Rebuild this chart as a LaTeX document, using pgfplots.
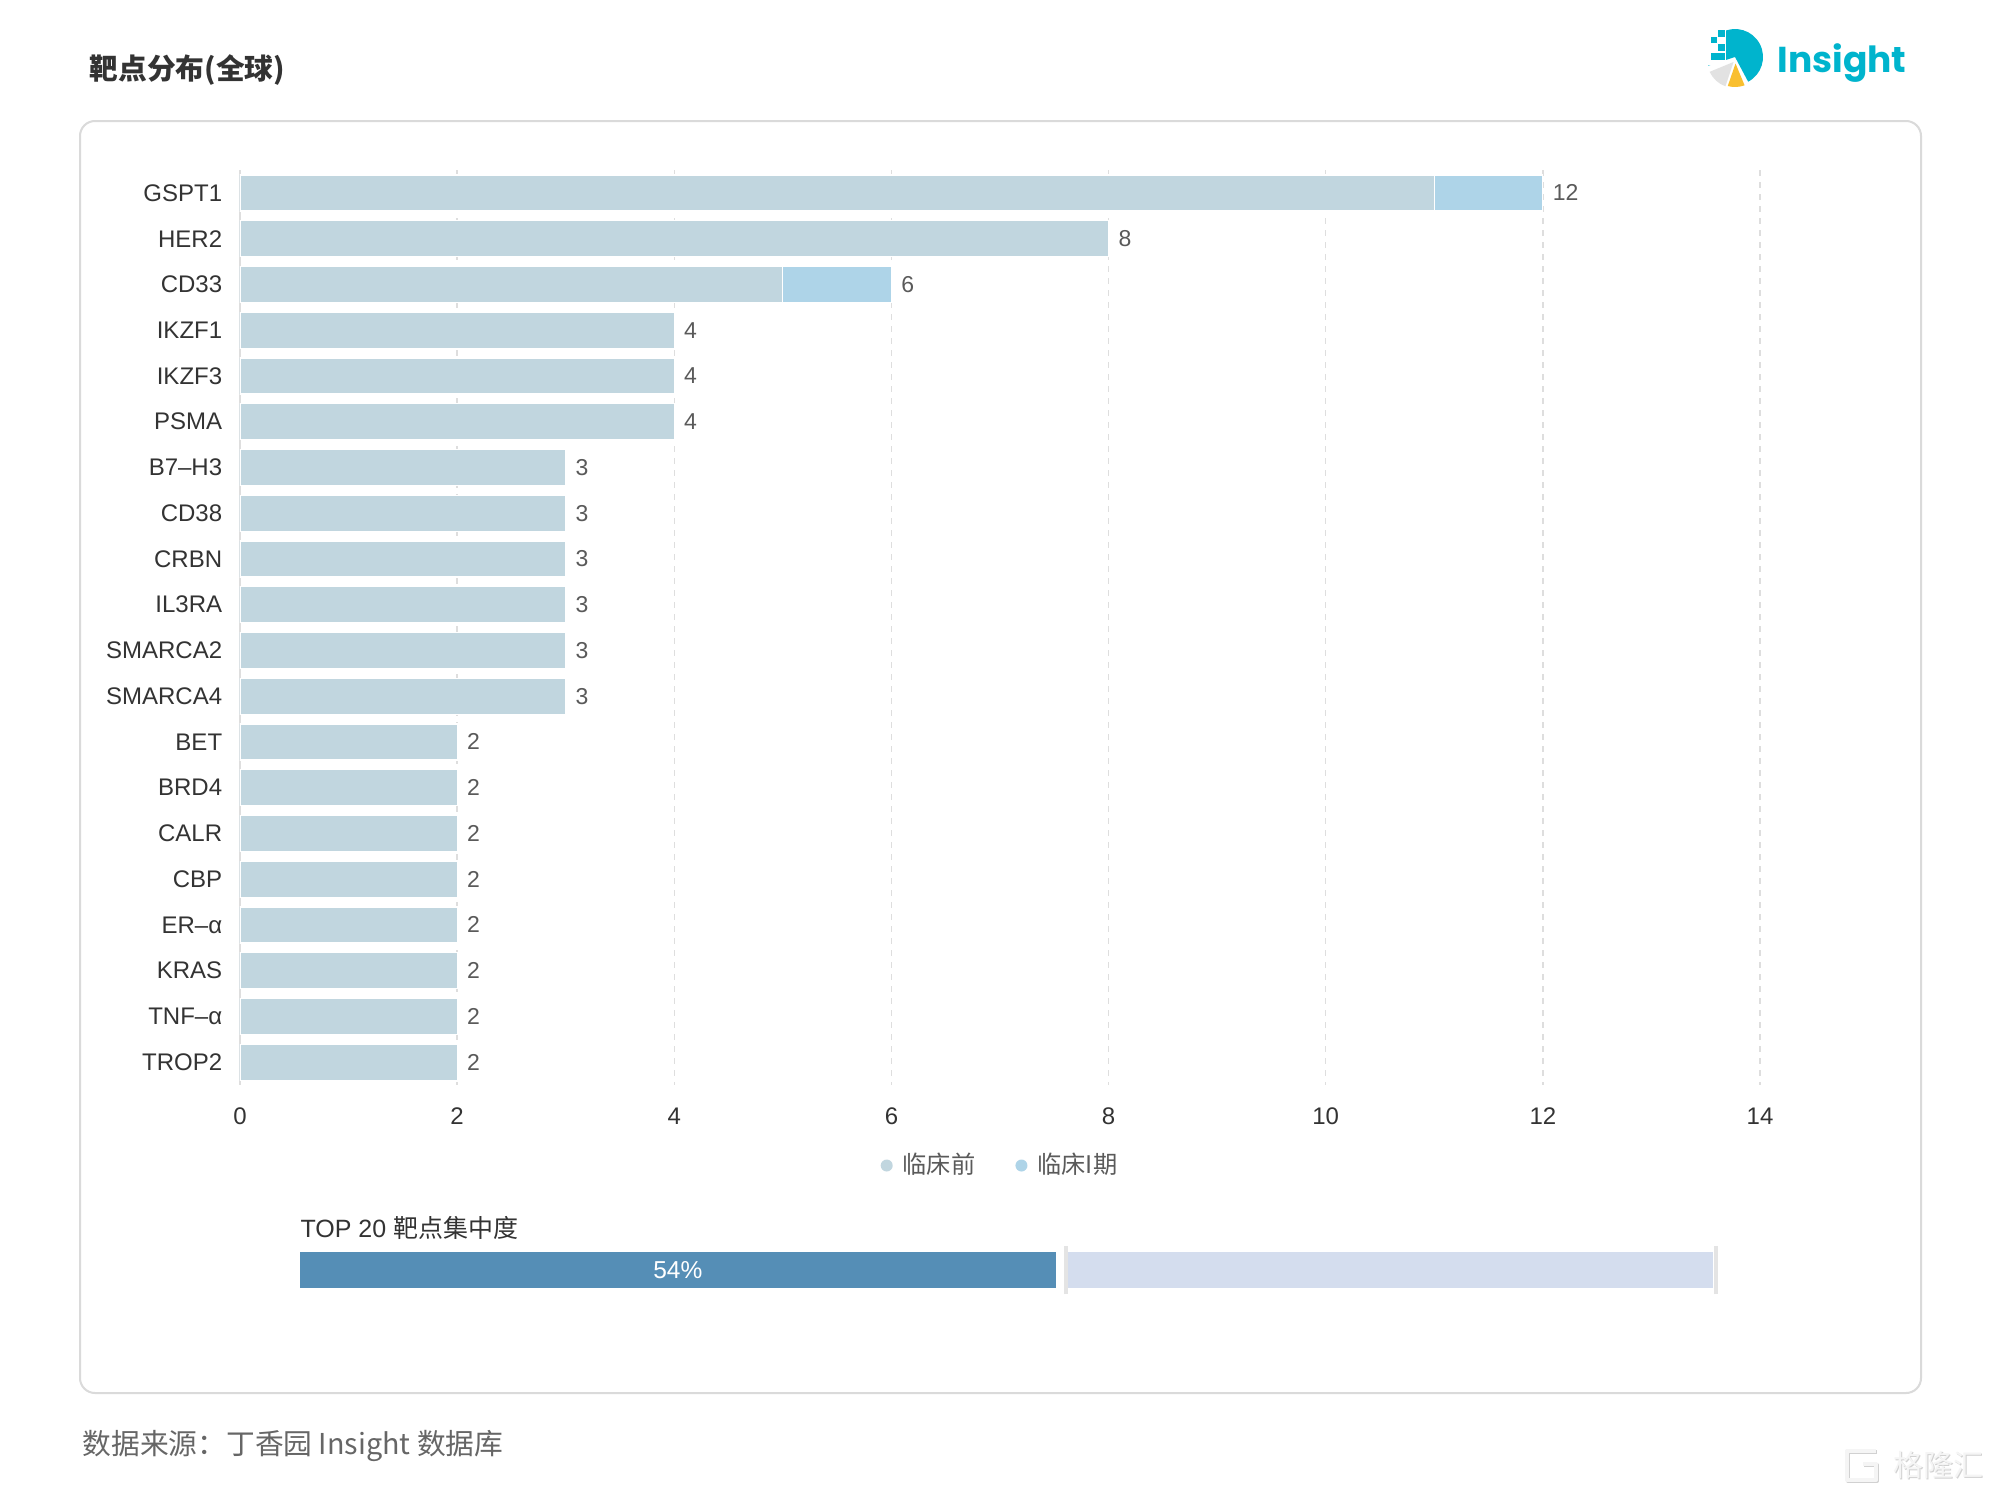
\documentclass[border=0pt]{standalone}
\usepackage{fontspec}
\usepackage{pgfplots}
\pgfplotsset{compat=1.18}
\usetikzlibrary{calc}
\setmainfont{Liberation Sans}
\newfontfamily\cjk{Noto Sans CJK SC}
\newfontfamily\logofont{Poppins}

\definecolor{pre}{HTML}{C1D6DF}
\definecolor{ph1}{HTML}{AED4E8}
\definecolor{txt}{HTML}{333333}
\definecolor{val}{HTML}{5A5A5A}
\definecolor{gridc}{HTML}{DEDEDE}
\definecolor{framec}{HTML}{DADADA}
\definecolor{dark}{HTML}{558EB6}
\definecolor{track}{HTML}{D4DDEE}
\definecolor{sepc}{HTML}{E4E4E4}
\definecolor{teal}{HTML}{00B4CD}
\definecolor{logogray}{HTML}{E2E2E2}
\definecolor{logoyel}{HTML}{F9BF2F}
\definecolor{src}{HTML}{666666}

\begin{document}
\begin{tikzpicture}
\useasboundingbox (0,0) rectangle (800pt,-596.8pt);
\fill[white] (0,0) rectangle (800pt,-596.8pt);

% title
\node[anchor=west, inner sep=0pt, text=txt] at (35.6pt,-28pt)
  {\cjk\bfseries\fontsize{11.5}{14}\selectfont 靶点分布(全球)};

% logo
\begin{scope}[shift={(694pt,-22.8pt)}]
  \fill[teal] (0,0) -- (-62:11.2pt) arc (-62:198:11.2pt) -- cycle;
  \fill[white] (-11.6pt,-3pt) rectangle (-3.6pt,12pt);
  \fill[teal] (-9.6pt,5.6pt) rectangle (-7.2pt,8pt);
  \fill[teal] (-6.8pt,8pt) rectangle (-4pt,10.8pt);
  \fill[teal] (-6.8pt,2.4pt) rectangle (-4pt,5.2pt);
  \fill[teal] (-9.6pt,-1.2pt) rectangle (-4pt,1.6pt);
  \fill[logogray] (-0.6pt,-2pt) -- ($(205:11.2pt)+(0,-1.2pt)$) arc (205:250:11.2pt) -- cycle;
  \fill[logoyel] (0.2pt,-2.6pt) -- ($(255:11.2pt)+(0,-0.8pt)$) arc (255:290:11.2pt) -- cycle;
\end{scope}
\node[anchor=base west, inner sep=0pt, text=teal] at (710.8pt,-28.8pt)
  {\logofont\bfseries\fontsize{14.4}{16}\selectfont Insight};

% panel frame
\draw[framec, line width=0.8pt, rounded corners=6pt] (32pt,-48.4pt) rectangle (768.4pt,-557.2pt);

\begin{axis}[
  at={(96pt,-434pt)}, anchor=south west,
  scale only axis, width=608pt, height=366pt,
  xbar, bar shift=0pt, bar width=14.4pt,
  xmin=0, xmax=14, ymin=-0.5, ymax=19.5, y dir=reverse,
  xtick={0,2,...,14}, ytick={0,...,19},
  yticklabels={GSPT1,HER2,CD33,IKZF1,IKZF3,PSMA,B7–H3,CD38,CRBN,IL3RA,SMARCA2,SMARCA4,BET,BRD4,CALR,CBP,ER–α,KRAS,TNF–α,TROP2},
  major tick length=0pt,
  axis line style={draw=none},
  xmajorgrids,
  grid style={gridc, dash pattern=on 2.4pt off 2.4pt, line width=0.6pt},
  extra x ticks={0}, extra x tick labels={},
  extra x tick style={grid style={solid, gridc, line width=0.8pt}},
  tick label style={font=\fontsize{9.6}{11}\selectfont, text=txt},
  /pgf/number format/assume math mode=true,
  xticklabel style={yshift=-5.5pt},
  yticklabel style={xshift=-3.6pt},
  legend columns=2,
  legend image code/.code={\fill (0pt,0pt) circle (2.4pt); \path (4.4pt,0pt);},
  legend style={at={(0.5,0)}, anchor=center, yshift=-32.2pt, xshift=0.6pt, draw=none, fill=none,
    font=\cjk\fontsize{9.7}{11}\selectfont, text=val,
    /tikz/every even column/.append style={column sep=14pt}},
]
% all stages together; the phase I part shows past the preclinical bar
\addplot[forget plot, fill=ph1, draw=white, line width=0.5pt,
  nodes near coords,
  nodes near coords style={font=\fontsize{9.2}{11}\selectfont, text=val, anchor=west, xshift=0.4pt}]
  coordinates {
  (12,0) (8,1) (6,2) (4,3) (4,4) (4,5) (3,6) (3,7) (3,8) (3,9)
  (3,10) (3,11) (2,12) (2,13) (2,14) (2,15) (2,16) (2,17) (2,18) (2,19)};
% preclinical
\addplot[forget plot, fill=pre, draw=white, line width=0.5pt] coordinates {
  (11,0) (8,1) (5,2) (4,3) (4,4) (4,5) (3,6) (3,7) (3,8) (3,9)
  (3,10) (3,11) (2,12) (2,13) (2,14) (2,15) (2,16) (2,17) (2,18) (2,19)};
\addlegendimage{fill=pre, draw=none}
\addlegendentry{临床前}
\addlegendimage{fill=ph1, draw=none}
\addlegendentry{临床I期}
\end{axis}

% concentration of the top 20 targets
\node[anchor=west, inner sep=0pt, text=txt] at (120pt,-491.2pt)
  {\fontsize{10}{11}\selectfont TOP 20 {\cjk 靶点集中度}};
\begin{axis}[
  at={(120pt,-517.6pt)}, anchor=south west,
  scale only axis, width=566.4pt, height=19.2pt,
  xmin=0, xmax=100, ymin=-1, ymax=1, hide axis, clip=false,
]
\addplot[xbar, bar shift=0pt, bar width=14.4pt, fill=track, draw=none] coordinates {(100,0)};
\addplot[xbar, bar shift=0pt, bar width=14.4pt, fill=dark, draw=none] coordinates {(54,0)};
\addplot[white, line width=4.8pt, xshift=-1pt] coordinates {(54,-0.8) (54,0.8)};
\addplot[sepc, line width=1.6pt, xshift=0.56pt] coordinates {(54,-1) (54,1)};
\addplot[white, line width=2.8pt] coordinates {(100,-0.8) (100,0.8)};
\addplot[sepc, line width=1.6pt] coordinates {(100,-1) (100,1)};
\node[text=white, font=\fontsize{9.8}{11}\selectfont, xshift=-1.8pt] at (axis cs:27,0) {54\%};
\end{axis}

% source
\node[anchor=west, inner sep=0pt, text=src] at (32.8pt,-578.2pt)
  {\cjk\fontsize{11.5}{13}\selectfont 数据来源：丁香园 Insight 数据库};

% corner mark
\begin{scope}[line width=1.6pt, line join=round]
  \draw[black!18, shift={(0.4pt,-0.4pt)}] (750.4pt,-580.4pt) -- (738.8pt,-580.4pt) -- (738.8pt,-592pt) -- (750.4pt,-592pt) -- (750.4pt,-585.6pt) -- (745pt,-585.6pt);
  \draw[white!96!black] (750.4pt,-580.4pt) -- (738.8pt,-580.4pt) -- (738.8pt,-592pt) -- (750.4pt,-592pt) -- (750.4pt,-585.6pt) -- (745pt,-585.6pt);
\end{scope}
\node[anchor=west, inner sep=0pt, text=black!18] at (757.6pt,-586.6pt) {\cjk\fontsize{12}{13}\selectfont 格隆汇};
\node[anchor=west, inner sep=0pt, text=white!96!black] at (757.2pt,-586.2pt) {\cjk\fontsize{12}{13}\selectfont 格隆汇};
\end{tikzpicture}
\end{document}
